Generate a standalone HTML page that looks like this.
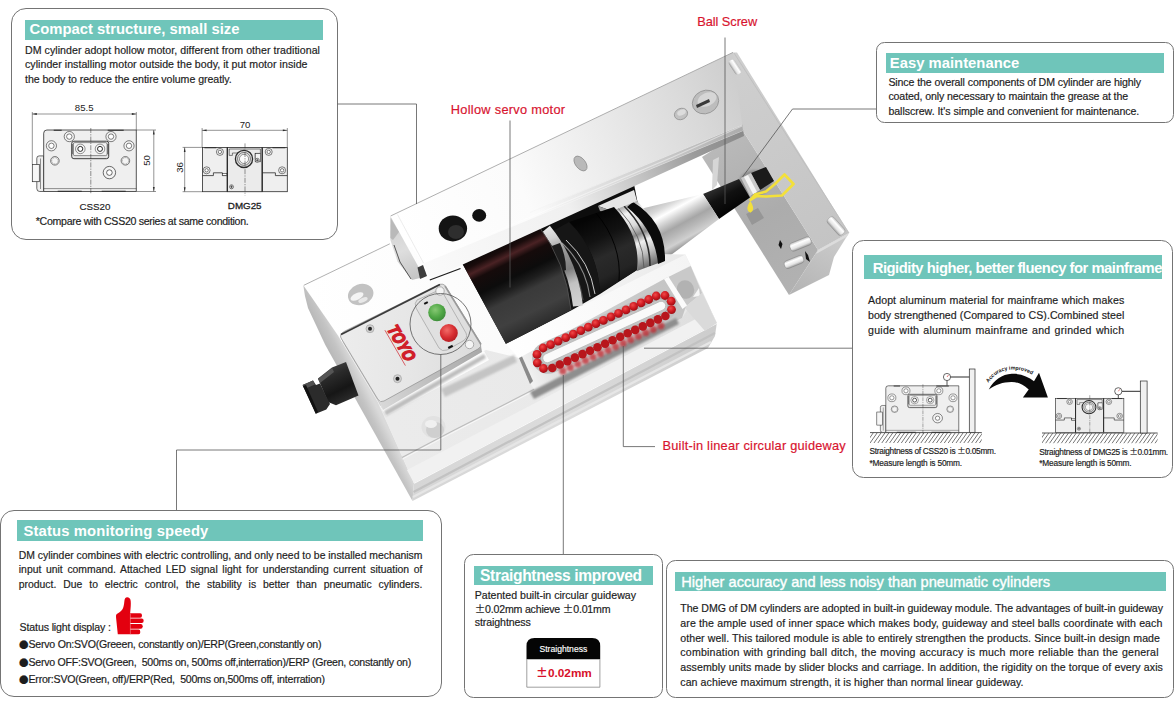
<!DOCTYPE html>
<html lang="en"><head><meta charset="utf-8"><title>DM cylinder features</title>
<style>
html,body{margin:0;padding:0;background:#fff;}
body{width:1174px;height:716px;position:relative;overflow:hidden;font-family:"Liberation Sans", "Noto Sans CJK SC", sans-serif;color:#1d1d1d;}
.box{position:absolute;border:1px solid #747474;background:#fff;box-sizing:border-box;}
.bar{position:absolute;background:#6fc5ba;}
.t{position:absolute;white-space:pre;line-height:20px;height:20px;}
.pm{font-family:"Noto Sans CJK SC",sans-serif;line-height:0;}
.bl{font-family:"Noto Sans CJK SC",sans-serif;line-height:0;font-size:9.5px;letter-spacing:0;}
svg{position:absolute;left:0;top:0;}
</style></head>
<body>

<div class="box" style="left:11px;top:7.8px;width:326.5px;height:232.6px;border-radius:15px"></div>
<div class="box" style="left:876.2px;top:41.8px;width:297.7px;height:81.6px;border-radius:8.5px"></div>
<div class="box" style="left:851.7px;top:240.2px;width:321.8px;height:237.6px;border-radius:11.5px"></div>
<div class="box" style="left:0px;top:509.6px;width:441.9px;height:187.8px;border-radius:14px"></div>
<div class="box" style="left:463.5px;top:553.6px;width:199.8px;height:144.2px;border-radius:9.5px"></div>
<div class="box" style="left:666.3px;top:560px;width:507.5px;height:137.8px;border-radius:9.5px"></div>
<div class="bar" style="left:25px;top:20px;width:298px;height:20px"></div>
<div class="bar" style="left:885.5px;top:53.3px;width:278.8px;height:20px"></div>
<div class="bar" style="left:863.6px;top:254.7px;width:298.8px;height:24.3px"></div>
<div class="bar" style="left:16.5px;top:520.4px;width:406.7px;height:20.3px"></div>
<div class="bar" style="left:474px;top:565.6px;width:178.6px;height:19.7px"></div>
<div class="bar" style="left:674.5px;top:571.5px;width:491.4px;height:19.7px"></div>

<svg width="1174" height="716" viewBox="0 0 1174 716">
<defs><linearGradient id="gBarTop" gradientUnits="userSpaceOnUse" x1="400" y1="240" x2="745" y2="90"><stop offset="0" stop-color="#ffffff"/><stop offset="0.35" stop-color="#fbfbfb"/><stop offset="0.6" stop-color="#ebebeb"/><stop offset="0.85" stop-color="#d9d9d9"/><stop offset="1" stop-color="#cdcdcd"/></linearGradient><linearGradient id="gBarFront" gradientUnits="userSpaceOnUse" x1="428" y1="275" x2="744" y2="133"><stop offset="0" stop-color="#fafafa"/><stop offset="0.45" stop-color="#f0f0f0"/><stop offset="0.62" stop-color="#d0d0d0"/><stop offset="0.85" stop-color="#9a9a9a"/><stop offset="1" stop-color="#8a8a8a"/></linearGradient><linearGradient id="gBarEnd" gradientUnits="userSpaceOnUse" x1="394" y1="218" x2="420" y2="280"><stop offset="0" stop-color="#cfcfcf"/><stop offset="0.5" stop-color="#dedede"/><stop offset="1" stop-color="#c2c2c2"/></linearGradient><linearGradient id="gEndTop" gradientUnits="userSpaceOnUse" x1="740" y1="60" x2="850" y2="235"><stop offset="0" stop-color="#cfcfcf"/><stop offset="1" stop-color="#c4c4c4"/></linearGradient><linearGradient id="gEndInner" gradientUnits="userSpaceOnUse" x1="720" y1="145" x2="800" y2="290"><stop offset="0" stop-color="#b9b9b9"/><stop offset="0.5" stop-color="#acacac"/><stop offset="1" stop-color="#b2b2b2"/></linearGradient><linearGradient id="gEndFace" gradientUnits="userSpaceOnUse" x1="830" y1="240" x2="800" y2="295"><stop offset="0" stop-color="#c9c9c9"/><stop offset="1" stop-color="#b4b4b4"/></linearGradient><linearGradient id="gBaseTop" gradientUnits="userSpaceOnUse" x1="310" y1="300" x2="700" y2="300"><stop offset="0" stop-color="#ffffff"/><stop offset="0.6" stop-color="#fafafa"/><stop offset="1" stop-color="#e6e6e6"/></linearGradient><linearGradient id="gBaseFront" gradientUnits="userSpaceOnUse" x1="414" y1="483" x2="717" y2="318"><stop offset="0" stop-color="#d6d6d6"/><stop offset="0.5" stop-color="#dcdcdc"/><stop offset="1" stop-color="#cccccc"/></linearGradient><linearGradient id="gBaseFront2" gradientUnits="userSpaceOnUse" x1="0" y1="0" x2="8" y2="17"><stop offset="0" stop-color="#f2f2f2"/><stop offset="0.45" stop-color="#e2e2e2"/><stop offset="0.55" stop-color="#d0d0d0"/><stop offset="1" stop-color="#e6e6e6"/></linearGradient><linearGradient id="gBaseLeft" gradientUnits="userSpaceOnUse" x1="318" y1="330" x2="334" y2="322"><stop offset="0" stop-color="#b8b8b8"/><stop offset="0.5" stop-color="#c4c4c4"/><stop offset="1" stop-color="#dadada"/></linearGradient><linearGradient id="gMotor" gradientUnits="userSpaceOnUse" x1="498" y1="243" x2="539" y2="327"><stop offset="0" stop-color="#050505"/><stop offset="0.1" stop-color="#1a0c0c"/><stop offset="0.17" stop-color="#4a2224"/><stop offset="0.24" stop-color="#160b0b"/><stop offset="0.4" stop-color="#0c0c0c"/><stop offset="0.5" stop-color="#1e1e1e"/><stop offset="0.6" stop-color="#3a3a3a"/><stop offset="0.82" stop-color="#404040"/><stop offset="1" stop-color="#2c2c2c"/></linearGradient><linearGradient id="gCyl2" gradientUnits="userSpaceOnUse" x1="590" y1="218" x2="622" y2="285"><stop offset="0" stop-color="#050505"/><stop offset="0.3" stop-color="#121212"/><stop offset="0.55" stop-color="#2a2a2a"/><stop offset="0.8" stop-color="#242424"/><stop offset="1" stop-color="#101010"/></linearGradient><linearGradient id="gCone" gradientUnits="userSpaceOnUse" x1="668" y1="198" x2="692" y2="242"><stop offset="0" stop-color="#c4c4c4"/><stop offset="0.12" stop-color="#d8d8d8"/><stop offset="0.26" stop-color="#ffffff"/><stop offset="0.4" stop-color="#d6d6d6"/><stop offset="0.58" stop-color="#a6a6a6"/><stop offset="0.72" stop-color="#b8b8b8"/><stop offset="0.88" stop-color="#d0d0d0"/><stop offset="1" stop-color="#9a9a9a"/></linearGradient><linearGradient id="gScrew" gradientUnits="userSpaceOnUse" x1="722" y1="186" x2="734" y2="208"><stop offset="0" stop-color="#2a2a2a"/><stop offset="0.4" stop-color="#111"/><stop offset="1" stop-color="#050505"/></linearGradient><linearGradient id="gBox" gradientUnits="userSpaceOnUse" x1="345" y1="335" x2="480" y2="345"><stop offset="0" stop-color="#ececec"/><stop offset="0.5" stop-color="#e6e6e6"/><stop offset="1" stop-color="#dcdcdc"/></linearGradient><linearGradient id="gBoxSide" gradientUnits="userSpaceOnUse" x1="380" y1="402" x2="481" y2="346"><stop offset="0" stop-color="#d8d8d8"/><stop offset="0.5" stop-color="#bdbdbd"/><stop offset="1" stop-color="#a8a8a8"/></linearGradient><linearGradient id="gConn" gradientUnits="userSpaceOnUse" x1="320" y1="365" x2="340" y2="405"><stop offset="0" stop-color="#4a4a4a"/><stop offset="0.35" stop-color="#2a2a2a"/><stop offset="0.7" stop-color="#161616"/><stop offset="1" stop-color="#2c2c2c"/></linearGradient><linearGradient id="gSlider" gradientUnits="userSpaceOnUse" x1="510" y1="350" x2="690" y2="262"><stop offset="0" stop-color="#ffffff"/><stop offset="1" stop-color="#f4f4f4"/></linearGradient><linearGradient id="gTrack" gradientUnits="userSpaceOnUse" x1="520" y1="360" x2="690" y2="275"><stop offset="0" stop-color="#f2f2f2"/><stop offset="0.12" stop-color="#e2e2e2"/><stop offset="0.5" stop-color="#cecece"/><stop offset="1" stop-color="#c2c2c2"/></linearGradient><linearGradient id="gPin" x1="0" y1="0" x2="0" y2="1"><stop offset="0" stop-color="#bdbdbd"/><stop offset="0.3" stop-color="#ffffff"/><stop offset="0.7" stop-color="#e4e4e4"/><stop offset="1" stop-color="#9a9a9a"/></linearGradient><radialGradient id="gGreen" cx="0.4" cy="0.35" r="0.7"><stop offset="0" stop-color="#86c873"/><stop offset="0.6" stop-color="#4fa645"/><stop offset="1" stop-color="#3b8a38"/></radialGradient><radialGradient id="gRed" cx="0.4" cy="0.35" r="0.7"><stop offset="0" stop-color="#f26a66"/><stop offset="0.6" stop-color="#d62c30"/><stop offset="1" stop-color="#b11c22"/></radialGradient><radialGradient id="gBall" cx="0.4" cy="0.35" r="0.75"><stop offset="0" stop-color="#f04a4a"/><stop offset="0.5" stop-color="#cf1a21"/><stop offset="1" stop-color="#8e0a10"/></radialGradient><filter id="blur1" x="-20%" y="-20%" width="140%" height="140%"><feGaussianBlur stdDeviation="1.2"/></filter><filter id="blur2" x="-20%" y="-20%" width="140%" height="140%"><feGaussianBlur stdDeviation="2.2"/></filter><filter id="blur05" x="-20%" y="-20%" width="140%" height="140%"><feGaussianBlur stdDeviation="0.6"/></filter><linearGradient id="gStrip" gradientUnits="userSpaceOnUse" x1="400" y1="440" x2="700" y2="300"><stop offset="0" stop-color="#ebebeb"/><stop offset="0.5" stop-color="#e9e9e9"/><stop offset="1" stop-color="#dedede"/></linearGradient><linearGradient id="gChrome" gradientUnits="userSpaceOnUse" x1="622" y1="205" x2="650" y2="266"><stop offset="0" stop-color="#9a9a9a"/><stop offset="0.15" stop-color="#f4f4f4"/><stop offset="0.35" stop-color="#dadada"/><stop offset="0.5" stop-color="#8a8a8a"/><stop offset="0.62" stop-color="#f0f0f0"/><stop offset="0.8" stop-color="#bcbcbc"/><stop offset="1" stop-color="#6a6a6a"/></linearGradient><linearGradient id="gRim" gradientUnits="userSpaceOnUse" x1="545" y1="228" x2="575" y2="308"><stop offset="0" stop-color="#e9e9e9"/><stop offset="0.14" stop-color="#d2d2d2"/><stop offset="0.3" stop-color="#9c9c9c"/><stop offset="0.55" stop-color="#7d7d7d"/><stop offset="0.72" stop-color="#c2c2c2"/><stop offset="1" stop-color="#d4d4d4"/></linearGradient><linearGradient id="gBarCh" gradientUnits="userSpaceOnUse" x1="540" y1="215" x2="743" y2="127"><stop offset="0" stop-color="#c8c8c8" stop-opacity="0"/><stop offset="0.5" stop-color="#c0c0c0" stop-opacity="0.55"/><stop offset="1" stop-color="#a8a8a8" stop-opacity="0.9"/></linearGradient></defs>
<g id="product">
<polygon points="702.0,157.0 743.0,131.0 818.0,250.0 789.0,295.0" fill="url(#gEndInner)"/>
<polygon points="728.0,55.0 733.0,52.4 737.0,52.5 849.0,233.0 818.0,250.0 743.0,131.0 738.0,131.0" fill="url(#gEndTop)"/>
<polygon points="818.0,250.0 849.0,233.0 834.0,257.0 829.0,275.0 789.0,295.0" fill="url(#gEndFace)"/>
<polygon points="818.0,250.0 849.0,233.0 846.5,237.0 816.0,254.0" fill="#dcdcdc"/>
<polygon points="713.0,160.0 719.0,157.0 717.0,185.0 712.0,190.0" fill="#d6d6d6" filter="url(#blur05)"/>
<ellipse cx="755" cy="183" rx="16" ry="13" fill="#8f8f8f" filter="url(#blur1)"/>
<polygon points="746.0,214.0 758.0,208.0 764.0,218.0 752.0,225.0" fill="#969696" filter="url(#blur05)"/>
<polygon points="751.0,173.0 766.0,167.0 774.0,181.0 760.0,190.0" fill="#1a1a1a"/>
<polygon points="741.0,178.0 751.0,173.0 760.0,190.0 750.0,196.0" fill="#c9c9c9"/>
<polygon points="744.0,177.0 748.0,175.0 757.0,192.0 753.0,194.0" fill="#f4f4f4"/>
<polygon points="703.0,194.0 739.0,179.0 750.0,197.5 719.0,219.0" fill="url(#gScrew)"/>
<polygon points="640.0,209.0 703.0,194.0 719.0,219.0 663.0,261.0" fill="url(#gCone)"/>
<polygon points="303.3,285.3 390.0,243.5 430.0,250.0 685.3,254.6 690.7,265.5 716.8,323.0 414.0,483.0" fill="url(#gBaseTop)"/>
<polyline points="303.8,285.3 389.8,243.8" stroke="#9c9c9c" stroke-width="0.8" fill="none"/>
<polygon points="303.3,285.3 338.0,335.6 379.0,404.0 414.0,483.0 412.5,501.0 325.3,345.0 308.0,308.0 305.0,296.0" fill="url(#gBaseLeft)"/>
<polygon points="414.0,483.0 716.8,323.0 715.0,336.0 708.0,348.0 412.5,501.0" fill="url(#gBaseFront)"/>
<polyline points="413.5,492.0 715.0,333.0" stroke="#c2c2c2" stroke-width="2.2" fill="none"/>
<polyline points="413.0,497.0 711.0,342.0" stroke="#e6e6e6" stroke-width="2.5" fill="none"/>
<polyline points="414.0,483.0 716.8,323.0" stroke="#fbfbfb" stroke-width="1.5" fill="none"/>
<polygon points="378.0,403.0 486.0,350.0 519.0,358.0 536.0,392.0 682.0,318.0 701.0,290.0 716.8,323.0 414.0,483.0" fill="url(#gStrip)"/>
<polygon points="380.0,406.0 484.0,351.0 489.0,360.0 386.0,416.0" fill="#fdfdfd"/>
<polygon points="441.0,389.0 514.0,355.0 517.0,362.0 445.0,397.0" fill="#c4c4c4" filter="url(#blur1)"/>
<polyline points="402.0,457.5 451.5,431.6 536.4,388.0 600.0,356.0" stroke="#bcbcbc" stroke-width="1.1" fill="none"/>
<polyline points="402.5,459.0 452.0,433.0 537.0,389.4 601.0,357.5" stroke="#f8f8f8" stroke-width="1" fill="none"/>
<polygon points="407.0,470.0 711.0,311.0 716.8,323.0 414.0,483.0" fill="#f1f1f1"/>
<ellipse cx="433.5" cy="427" rx="12" ry="11" fill="#e2e2e2"/>
<ellipse cx="435" cy="430" rx="9" ry="8" fill="#cfcfcf"/>
<ellipse cx="431" cy="424" rx="6" ry="4" fill="#f0f0f0"/>
<ellipse cx="360.7" cy="294.5" rx="13" ry="10.5" fill="#c2c2c2" transform="rotate(-20 360.7 294.5)"/>
<ellipse cx="357" cy="296.5" rx="7" ry="3.2" fill="#f4f4f4" transform="rotate(-25 357 296.5)"/>
<ellipse cx="363" cy="300" rx="5" ry="2.2" fill="#e8e8e8" transform="rotate(-25 363 300)"/>
<polygon points="667.0,277.6 690.7,266.0 702.0,293.0 684.5,307.6" fill="#c9c9c9"/>
<ellipse cx="685.5" cy="289.5" rx="8.5" ry="9.5" fill="#b2b2b2" transform="rotate(-25 685.5 289.5)"/>
<polygon points="693.0,297.0 699.0,288.0 700.0,296.0" fill="#f6f6f6"/>
<polygon points="684.5,307.6 702.0,293.0 716.8,323.0 705.0,331.0" fill="#dadada"/>
<polygon points="461.0,261.0 540.0,222.0 634.0,184.0 640.0,215.0 637.0,270.0 600.0,294.0 572.0,310.0 506.0,344.0" fill="#0d0d0d"/>
<path d="M612,209 L636,200 Q662,226 664,261 L637,271 Q640,236 612,209 Z" fill="url(#gChrome)"/>
<path d="M624,206 Q650,232 650,266" stroke="#2a2a2a" stroke-width="1.6" fill="none"/>
<path d="M618,208 Q644,236 644,268" stroke="#555" stroke-width="0.8" fill="none"/>
<path d="M633,202 Q666,222 665,261 L658,264 Q655,230 627,207 Z" fill="#0a0a0a"/>
<polygon points="598.0,206.0 634.0,190.0 637.0,201.0 612.0,211.0" fill="#e6e6e6"/>
<polygon points="598.0,206.0 612.0,211.0 613.0,216.0 600.0,211.0" fill="#9d9d9d"/>
<path d="M569,222 L614,207 Q641,236 637,270 L600,293 Q598,250 569,222 Z" fill="url(#gCyl2)"/>
<path d="M596,213 Q622,244 619,281" stroke="#000" stroke-width="0.9" fill="none"/>
<path d="M540,238 L569,222 Q598,250 600,293 L572,309 Q565,265 540,238 Z" fill="#161616"/>
<path d="M562,243 Q586,266 590,297" stroke="#8a8a8a" stroke-width="1.1" fill="none"/>
<path d="M566,240 Q590,262 595,294" stroke="#e2e2e2" stroke-width="0.9" fill="none"/>
<path d="M557,247 Q578,268 583,300" stroke="#4a4a4a" stroke-width="1.3" fill="none"/>
<path d="M546,229 Q573,262 578,306" stroke="url(#gRim)" stroke-width="10" fill="none"/>
<path d="M549,247 L560,243 Q566,256 566,270 L555,274 Q555,260 549,247 Z" fill="#1e1e1e"/>
<path d="M461,261 L538,225 Q566,262 571,310 L506,344 Z" fill="url(#gMotor)"/>
<path d="M538,225 Q566,262 571,310" stroke="#555" stroke-width="0.8" fill="none"/>
<polygon points="506.0,344.0 685.3,254.6 690.7,265.5 668.0,277.0 519.0,358.0" fill="url(#gSlider)"/>
<polygon points="519.0,358.0 668.0,277.0 686.0,306.0 682.0,318.0 536.0,392.0 528.0,380.0" fill="url(#gTrack)"/>
<polygon points="664.0,279.0 668.5,276.8 687.0,305.5 682.5,309.0" fill="#fbfbfb"/>
<polygon points="530.0,392.0 676.0,318.0 679.0,324.0 534.0,399.0" fill="#8e8e8e" filter="url(#blur1)"/>
<polygon points="519.0,358.0 522.0,356.5 533.0,381.0 530.0,384.0" fill="#8a8a8a"/>
<path d="M540.6,343.7 L654.5,291.3 A16.0,16.0 0 0 1 667.9,320.3 L554.0,372.7 A16.0,16.0 0 0 1 540.6,343.7 Z" fill="#bfbfbf"/>
<path d="M544.2,351.4 L658.1,299.0 A7.5,7.5 0 0 1 664.3,312.6 L550.4,365.0 A7.5,7.5 0 0 1 544.2,351.4 Z" fill="#c4c4c4" stroke="#a0a0a0" stroke-width="1"/>
<path d="M545.4,354.1 L659.3,301.7 A4.5,4.5 0 0 1 663.1,309.9 L549.2,362.3 A4.5,4.5 0 0 1 545.4,354.1 Z" fill="#fafafa" stroke="#b5b5b5" stroke-width="0.8"/>
<g fill="#c2272d" opacity="0.75" filter="url(#blur1)"><circle cx="562.8" cy="370.9" r="3.6"/><circle cx="570.3" cy="367.4" r="3.6"/><circle cx="577.8" cy="364.0" r="3.6"/><circle cx="585.4" cy="360.5" r="3.6"/><circle cx="592.9" cy="357.0" r="3.6"/><circle cx="600.5" cy="353.6" r="3.6"/><circle cx="608.0" cy="350.1" r="3.6"/><circle cx="615.5" cy="346.6" r="3.6"/><circle cx="623.1" cy="343.1" r="3.6"/><circle cx="630.6" cy="339.7" r="3.6"/><circle cx="638.2" cy="336.2" r="3.6"/><circle cx="645.7" cy="332.7" r="3.6"/><circle cx="653.2" cy="329.3" r="3.6"/><circle cx="660.8" cy="325.8" r="3.6"/></g>
<g fill="#b8151c" filter="url(#blur05)"><circle cx="552.3" cy="368.0" r="4.3"/><circle cx="559.8" cy="364.5" r="4.3"/><circle cx="567.4" cy="361.1" r="4.3"/><circle cx="574.9" cy="357.6" r="4.3"/><circle cx="582.5" cy="354.1" r="4.3"/><circle cx="590.0" cy="350.7" r="4.3"/><circle cx="597.5" cy="347.2" r="4.3"/><circle cx="605.1" cy="343.7" r="4.3"/><circle cx="612.6" cy="340.3" r="4.3"/><circle cx="620.2" cy="336.8" r="4.3"/><circle cx="627.7" cy="333.3" r="4.3"/><circle cx="635.2" cy="329.9" r="4.3"/><circle cx="642.8" cy="326.4" r="4.3"/><circle cx="650.3" cy="322.9" r="4.3"/><circle cx="657.9" cy="319.4" r="4.3"/><circle cx="665.4" cy="316.0" r="4.3"/></g>
<g fill="url(#gBall)"><circle cx="543.5" cy="368.5" r="4.4"/><circle cx="537.3" cy="362.8" r="4.4"/><circle cx="537.0" cy="354.4" r="4.4"/><circle cx="665.0" cy="295.5" r="4.4"/><circle cx="671.2" cy="301.2" r="4.4"/><circle cx="671.5" cy="309.6" r="4.4"/><circle cx="543.1" cy="348.0" r="4.4"/><circle cx="550.6" cy="344.6" r="4.4"/><circle cx="558.2" cy="341.1" r="4.4"/><circle cx="565.7" cy="337.6" r="4.4"/><circle cx="573.3" cy="334.1" r="4.4"/><circle cx="580.8" cy="330.7" r="4.4"/><circle cx="588.3" cy="327.2" r="4.4"/><circle cx="595.9" cy="323.7" r="4.4"/><circle cx="603.4" cy="320.3" r="4.4"/><circle cx="611.0" cy="316.8" r="4.4"/><circle cx="618.5" cy="313.3" r="4.4"/><circle cx="626.0" cy="309.9" r="4.4"/><circle cx="633.6" cy="306.4" r="4.4"/><circle cx="641.1" cy="302.9" r="4.4"/><circle cx="648.7" cy="299.5" r="4.4"/><circle cx="656.2" cy="296.0" r="4.4"/></g>
<polygon points="390.6,216.5 418.0,266.0 424.0,277.0 412.0,280.0 397.5,261.4 390.4,240.0" fill="url(#gBarEnd)"/>
<polygon points="390.6,218.0 399.0,232.0 393.0,240.0 390.4,238.0" fill="#b9b9b9" filter="url(#blur05)"/>
<polygon points="417.5,267.5 423.0,265.0 427.0,276.0 420.0,279.0" fill="#3c3c3c" filter="url(#blur05)"/>
<polyline points="394.0,245.0 400.0,262.0 411.0,279.0" stroke="#333" stroke-width="0.8" fill="none"/>
<polygon points="423.3,262.6 743.0,129.5 744.0,136.0 431.0,279.0" fill="url(#gBarFront)"/>
<polygon points="390.6,216.0 733.0,52.4 743.0,131.0 423.3,263.5" fill="url(#gBarTop)"/>
<polyline points="397.5,214.5 423.5,263.0" stroke="#e4e4e4" stroke-width="0.7" fill="none"/>
<polygon points="540.0,208.0 742.3,124.5 743.0,130.5 540.0,214.5" fill="url(#gBarCh)"/>
<polyline points="530.0,212.5 742.0,125.0" stroke="#f4f4f4" stroke-width="0.9" fill="none" opacity="0.7"/>
<polyline points="429.8,280.0 460.5,268.5" stroke="#1c1c1c" stroke-width="1.3" fill="none"/>
<polyline points="390.6,216.0 733.0,52.4" stroke="#9a9a9a" stroke-width="0.8" fill="none"/>
<polyline points="734.0,53.0 849.0,233.0" stroke="#bdbdbd" stroke-width="0.8" fill="none"/>
<polyline points="485.0,236.0 673.0,157.0 742.0,126.0" stroke="#ffffff" stroke-width="1.2" fill="none" opacity="0.45"/>
<ellipse cx="452.9" cy="228.4" rx="14.2" ry="13" fill="#141414"/>
<ellipse cx="456" cy="232" rx="8" ry="7" fill="#2e2e2e"/>
<ellipse cx="479.2" cy="215.4" rx="7" ry="6.3" fill="#111"/>
<ellipse cx="580.5" cy="163.5" rx="5" ry="8.5" fill="#b9b9b9" stroke="#8f8f8f" stroke-width="0.8" transform="rotate(-38 580.5 163.5)"/>
<ellipse cx="705.5" cy="102" rx="13.5" ry="11.5" fill="#bdbdbd" stroke="#949494" stroke-width="0.8" transform="rotate(-25 705.5 102)"/><ellipse cx="707" cy="99.5" rx="10" ry="6.5" fill="#d6d6d6" transform="rotate(-25 707 99.5)"/>
<polygon points="696.0,105.0 709.0,99.0 710.0,102.0 697.0,108.0" fill="#3a3a3a"/>
<ellipse cx="681" cy="114" rx="6.8" ry="5.5" fill="#c2c2c2" stroke="#949494" stroke-width="0.8" transform="rotate(-25 681 114)"/><ellipse cx="681.5" cy="112.5" rx="4.5" ry="2.8" fill="#dcdcdc" transform="rotate(-25 681.5 112.5)"/>
<rect x="-8" y="-3.5" width="16" height="7" rx="3" fill="url(#gPin)" transform="translate(735,67) rotate(57)"/>
<rect x="-10.5" y="-4.2" width="21" height="8.4" rx="3" fill="url(#gPin)" stroke="#8a8a8a" stroke-width="0.4" transform="translate(836,226) rotate(48)"/>
<rect x="-11" y="-4.3" width="22" height="8.6" rx="3" fill="url(#gPin)" stroke="#777" stroke-width="0.4" transform="translate(800.5,244) rotate(-22)"/>
<rect x="-10" y="-4" width="20" height="8" rx="3" fill="url(#gPin)" stroke="#777" stroke-width="0.4" transform="translate(794,262) rotate(-22)"/>
<polygon points="780.0,240.0 782.5,244.0 781.0,249.0 778.5,245.0" fill="#111"/>
<polygon points="805.0,251.0 808.0,255.0 810.0,262.0 806.0,259.0" fill="#111"/>
<path d="M750.5,200 L755,194.5 L766,191.5 L775,184 L784.5,174.5 L793.5,184 L782,195.5 L766,196.5 L757,196 Z" fill="none" stroke="#f3e03a" stroke-width="2.6" stroke-linejoin="round"/>
<path d="M750.3,202 Q745.5,209.5 750.3,212 Q755,209.5 750.3,202 Z" fill="#f3e03a" stroke="#f3e03a" stroke-width="1.2"/>
<polygon points="318.0,378.5 332.0,367.5 346.0,362.0 358.5,395.5 336.0,405.2 328.0,402.0" fill="url(#gConn)"/>
<polygon points="302.6,385.0 313.0,380.5 316.0,385.0 320.0,383.5 330.0,404.0 326.3,409.4 315.8,413.8" fill="#2b2b2b"/>
<polygon points="302.6,385.0 313.0,380.5 315.0,384.5 304.5,389.0" fill="#505050"/>
<polygon points="318.0,379.0 332.0,368.0 334.0,372.0 320.0,383.0" fill="#555"/>
<polygon points="303.0,386.0 306.0,385.0 318.0,412.0 315.8,413.8" fill="#111"/>
<polygon points="340.0,335.0 380.0,402.5 383.0,410.0 343.0,343.0" fill="#cfcfcf"/>
<polygon points="380.0,402.5 481.0,346.0 482.0,352.0 383.0,410.0" fill="url(#gBoxSide)"/>
<polygon points="384.0,411.0 484.0,354.0 486.0,358.0 386.0,416.0" fill="#bdbdbd" filter="url(#blur1)"/>
<path d="M345,331 L438,285 Q443.75,282.5 446,287 L480.5,343 Q482,347 478,349 L384,401 Q380,403 378,399.5 L341,338 Q339,334 345,331 Z" fill="url(#gBox)" stroke="#8d8d8d" stroke-width="0.7"/>
<polyline points="341.0,334.5 440.0,284.5" stroke="#3a3a3a" stroke-width="1.8" fill="none"/>
<polyline points="445.0,286.0 481.0,344.5" stroke="#9a9a9a" stroke-width="1.6" fill="none"/>
<path d="M417,300 L437,291 Q441,290 443,293 L466,333 Q468,338 463,341 L447,350 Q442,352 439,348 L416,308 Q414,303 417,300 Z" fill="#e0e0e0" stroke="#a8a8a8" stroke-width="0.8"/>
<circle cx="437" cy="312.5" r="8.8" fill="url(#gGreen)"/>
<circle cx="448.8" cy="333" r="9" fill="url(#gRed)"/>
<rect x="424" y="302" width="4" height="2" fill="#111" transform="rotate(-27 426 303)"/>
<rect x="448" y="346" width="5" height="2.2" fill="#111" transform="rotate(-27 450 347)"/>
<circle cx="440" cy="291" r="4.2" fill="#f4f4f4" stroke="#9c9c9c" stroke-width="0.8"/>
<circle cx="469.5" cy="344.5" r="4.2" fill="#f4f4f4" stroke="#9c9c9c" stroke-width="0.8"/>
<circle cx="370" cy="328.7" r="4" fill="#d2d2d2" stroke="#a8a8a8" stroke-width="0.8"/><circle cx="370" cy="328.7" r="2" fill="#222"/>
<circle cx="397.5" cy="378.7" r="4" fill="#d2d2d2" stroke="#a8a8a8" stroke-width="0.8"/><circle cx="397.5" cy="378.7" r="2" fill="#222"/>
<text x="0" y="0" transform="translate(386.6,328.6) rotate(60) skewX(-10)" font-family="Liberation Sans, sans-serif" font-weight="700" font-size="16.6" fill="#d01f2a" stroke="#d01f2a" stroke-width="1.5" stroke-linejoin="miter" textLength="38.5" lengthAdjust="spacingAndGlyphs">TOYO</text>
<path d="M384.9,330.2 L405.4,365.6" stroke="#d01f2a" stroke-width="0.7" fill="none"/>
</g>

<defs><g id="css20"><path d="M0,25.9 L-4.5,25.9 Q-6.9,25.9 -6.9,28.3 L-6.9,58.5 Q-6.9,61.5 -4,61.5 L0,61.5 Z" fill="#efefef" stroke="#2b2b2b" stroke-width="0.7"/><path d="M-3.2,28.5 L-3.2,59" fill="none" stroke="#2b2b2b" stroke-width="0.5"/><rect x="-11.4" y="34.5" width="7" height="17.2" fill="#f6f6f6" stroke="#2b2b2b" stroke-width="0.7"/><path d="M3.2,0 L92.6,0 L92.6,61.5 L0,61.5 L0,3.2 Q0,0 3.2,0 Z" fill="#efefef" stroke="#2b2b2b" stroke-width="0.8"/><path d="M0,58.6 L92.6,58.6" stroke="#2b2b2b" stroke-width="0.5" fill="none"/><path d="M14,61.2 L38,61.2 M58,61.2 L82,61.2 M10,0.3 L18,0.3 M64,0.3 L80,0.3" stroke="#2b2b2b" stroke-width="1.1" fill="none"/><circle cx="25.6" cy="6.6" r="5.1" fill="#f4f4f4" stroke="#2b2b2b" stroke-width="0.6"/><circle cx="25.6" cy="6.6" r="2.7" fill="#fff" stroke="#2b2b2b" stroke-width="0.6"/><circle cx="67.3" cy="6.6" r="5.1" fill="#f4f4f4" stroke="#2b2b2b" stroke-width="0.6"/><circle cx="67.3" cy="6.6" r="2.7" fill="#fff" stroke="#2b2b2b" stroke-width="0.6"/><circle cx="7.7" cy="15.8" r="5.1" fill="#f4f4f4" stroke="#2b2b2b" stroke-width="0.6"/><circle cx="7.7" cy="15.8" r="2.7" fill="#fff" stroke="#2b2b2b" stroke-width="0.6"/><circle cx="85.3" cy="15.8" r="5.1" fill="#f4f4f4" stroke="#2b2b2b" stroke-width="0.6"/><circle cx="85.3" cy="15.8" r="2.7" fill="#fff" stroke="#2b2b2b" stroke-width="0.6"/><circle cx="11.2" cy="30.8" r="4.3" fill="#f4f4f4" stroke="#2b2b2b" stroke-width="0.6"/><circle cx="11.2" cy="30.8" r="3.2" fill="none" stroke="#2b2b2b" stroke-width="0.4" stroke-dasharray="1 0.6"/><circle cx="81.7" cy="30.8" r="4.3" fill="#f4f4f4" stroke="#2b2b2b" stroke-width="0.6"/><circle cx="81.7" cy="30.8" r="3.2" fill="none" stroke="#2b2b2b" stroke-width="0.4" stroke-dasharray="1 0.6"/><circle cx="65.7" cy="42.6" r="6.2" fill="#f4f4f4" stroke="#2b2b2b" stroke-width="0.7"/><circle cx="65.7" cy="42.6" r="2.8" fill="#fff" stroke="#2b2b2b" stroke-width="0.7"/><rect x="28" y="11.2" width="37" height="17.5" rx="2.2" fill="#e4e4e4" stroke="#2b2b2b" stroke-width="0.9"/><rect x="29.6" y="12.6" width="33.8" height="13" rx="1.5" fill="#f2f2f2" stroke="#2b2b2b" stroke-width="0.5"/><path d="M29,14 L29,24 M64,14 L64,24" stroke="#2b2b2b" stroke-width="1.2" stroke-dasharray="0.6 0.6" fill="none"/><circle cx="36.6" cy="18.9" r="4.8" fill="#f6f6f6" stroke="#2b2b2b" stroke-width="0.5"/><circle cx="36.6" cy="18.9" r="2.5" fill="#fff" stroke="#2b2b2b" stroke-width="1.0"/><circle cx="56.3" cy="18.9" r="4.8" fill="#f6f6f6" stroke="#2b2b2b" stroke-width="0.5"/><circle cx="56.3" cy="18.9" r="2.5" fill="#fff" stroke="#2b2b2b" stroke-width="1.0"/><path d="M47.1,-2 L47.1,63.5" stroke="#2b2b2b" stroke-width="0.5" stroke-dasharray="5 1.2 1.2 1.2" fill="none"/></g>
<g id="dmg25"><rect x="0" y="0" width="84.9" height="44.3" fill="#efefef" stroke="#2b2b2b" stroke-width="0.8"/><rect x="24.9" y="0" width="34.9" height="44.3" fill="#ebebeb" stroke="#2b2b2b" stroke-width="0.7"/><path d="M24.9,0 L24.9,44.3 M59.8,0 L59.8,44.3" stroke="#2b2b2b" stroke-width="1.3" fill="none"/><path d="M26.8,1.6 L58,1.6 M26.8,1.6 L26.8,8 L30,8 L30,5.6 L36,5.6 M58,1.6 L58,6 L52.8,6 L52.8,12 " stroke="#2b2b2b" stroke-width="0.6" fill="none"/><rect x="52.8" y="6" width="5.2" height="8.4" fill="#f4f4f4" stroke="#2b2b2b" stroke-width="0.6"/><path d="M0,28.2 L11,28.2 L11,25.4 L20,25.4 L20,28.2 L24.9,28.2" stroke="#2b2b2b" stroke-width="0.8" fill="none"/><path d="M59.8,25.4 L73,25.4 L73,28.2 L84.9,28.2" stroke="#2b2b2b" stroke-width="0.8" fill="none"/><rect x="20" y="26" width="4.4" height="2.2" fill="#fff" stroke="#2b2b2b" stroke-width="0.6"/><path d="M2,0.3 L14,0.3 M70,0.3 L83,0.3" stroke="#2b2b2b" stroke-width="1.1" fill="none"/><circle cx="17.5" cy="4.5" r="3.5" fill="#f4f4f4" stroke="#2b2b2b" stroke-width="0.6"/><circle cx="17.5" cy="4.5" r="1.7" fill="#fff" stroke="#2b2b2b" stroke-width="0.6"/><circle cx="66.3" cy="4.5" r="3.5" fill="#f4f4f4" stroke="#2b2b2b" stroke-width="0.6"/><circle cx="66.3" cy="4.5" r="1.7" fill="#fff" stroke="#2b2b2b" stroke-width="0.6"/><circle cx="4.2" cy="22.9" r="3.5" fill="#f4f4f4" stroke="#2b2b2b" stroke-width="0.6"/><circle cx="4.2" cy="22.9" r="1.7" fill="#fff" stroke="#2b2b2b" stroke-width="0.6"/><circle cx="79.7" cy="22.9" r="3.5" fill="#f4f4f4" stroke="#2b2b2b" stroke-width="0.6"/><circle cx="79.7" cy="22.9" r="1.7" fill="#fff" stroke="#2b2b2b" stroke-width="0.6"/><circle cx="41.6" cy="11.5" r="8.6" fill="#dcdcdc" stroke="#2b2b2b" stroke-width="1.3"/><circle cx="41.6" cy="11.5" r="6.4" fill="#f2f2f2" stroke="#2b2b2b" stroke-width="0.6"/><circle cx="41.6" cy="11.5" r="4.6" fill="#fafafa" stroke="#2b2b2b" stroke-width="0.5"/><circle cx="54.9" cy="12.9" r="2" fill="#fff" stroke="#2b2b2b" stroke-width="0.6"/><path d="M53.5,12.9 L56.3,12.9 M54.9,11.5 L54.9,14.3" stroke="#2b2b2b" stroke-width="0.7"/><circle cx="29.1" cy="39.4" r="2" fill="#fff" stroke="#2b2b2b" stroke-width="0.6"/><path d="M27.700000000000003,39.4 L30.5,39.4 M29.1,38.0 L29.1,40.8" stroke="#2b2b2b" stroke-width="0.7"/><path d="M42.6,-4 L42.6,48" stroke="#2b2b2b" stroke-width="0.5" stroke-dasharray="5 1.2 1.2 1.2" fill="none"/></g>
<pattern id="hatch" patternUnits="userSpaceOnUse" width="3.2" height="3.2" patternTransform="rotate(35)"><rect width="3.2" height="3.2" fill="#fff"/><path d="M0,0 L0,3.2" stroke="#333" stroke-width="1.1"/></pattern>
</defs>
<use href="#css20" transform="translate(43.7,130)"/>
<use href="#dmg25" transform="translate(202.4,147.4)"/>
<path d="M32.3,112 L32.3,164 M136.3,112 L136.3,130 M32.3,114 L136.3,114" stroke="#2b2b2b" stroke-width="0.5" fill="none"/><path d="M32.3,114 L36.8,113.1 L36.8,114.9 Z" fill="#2b2b2b"/><path d="M136.3,114 L131.8,113.1 L131.8,114.9 Z" fill="#2b2b2b"/>
<text x="84.2" y="110.6" font-family="Liberation Sans, sans-serif" font-size="9.6" text-anchor="middle" fill="#222">85.5</text>
<path d="M136.3,130 L156,130 M136.3,191.5 L156,191.5 M153.8,130 L153.8,191.5" stroke="#2b2b2b" stroke-width="0.5" fill="none"/><path d="M153.8,130 L152.9,134.5 L154.70000000000002,134.5 Z" fill="#2b2b2b"/><path d="M153.8,191.5 L152.9,187.0 L154.70000000000002,187.0 Z" fill="#2b2b2b"/>
<text transform="translate(150.4,160.5) rotate(-90)" font-family="Liberation Sans, sans-serif" font-size="9.6" text-anchor="middle" fill="#222">50</text>
<path d="M202.1,128 L202.1,147 M287.3,128 L287.3,147 M202.1,130.3 L287.3,130.3" stroke="#2b2b2b" stroke-width="0.5" fill="none"/><path d="M202.1,130.3 L206.6,129.4 L206.6,131.20000000000002 Z" fill="#2b2b2b"/><path d="M287.3,130.3 L282.8,129.4 L282.8,131.20000000000002 Z" fill="#2b2b2b"/>
<text x="245" y="127.9" font-family="Liberation Sans, sans-serif" font-size="9.6" text-anchor="middle" fill="#222">70</text>
<path d="M182.6,147.4 L202,147.4 M182.6,191.7 L202,191.7 M184.7,147.4 L184.7,191.7" stroke="#2b2b2b" stroke-width="0.5" fill="none"/><path d="M184.7,147.4 L183.79999999999998,151.9 L185.6,151.9 Z" fill="#2b2b2b"/><path d="M184.7,191.7 L183.79999999999998,187.2 L185.6,187.2 Z" fill="#2b2b2b"/>
<text transform="translate(183,167.5) rotate(-90)" font-family="Liberation Sans, sans-serif" font-size="9.6" text-anchor="middle" fill="#222">36</text>
<text x="95" y="210" font-family="Liberation Sans, sans-serif" font-size="9.8" text-anchor="middle" fill="#222" stroke="#222" stroke-width="0.15">CSS20</text>
<text x="244.7" y="208.6" font-family="Liberation Sans, sans-serif" font-size="9.8" text-anchor="middle" fill="#222" stroke="#222" stroke-width="0.3">DMG25</text>
<rect x="870" y="432.8" width="111.8" height="10.2" fill="url(#hatch)"/>
<path d="M870,432.6 L981.8,432.6" stroke="#2b2b2b" stroke-width="0.8"/>
<rect x="1042" y="433.2" width="115.6" height="10" fill="url(#hatch)"/>
<path d="M1042,433 L1157.6,433" stroke="#2b2b2b" stroke-width="0.8"/>
<use href="#css20" transform="translate(885.8,385.8) scale(0.788,0.76)"/>
<use href="#dmg25" transform="translate(1055.5,398.3) scale(0.805,0.772)"/>
<rect x="969.3" y="369" width="5.7" height="63.5" fill="#f0f0f0" stroke="#2b2b2b" stroke-width="0.7"/>
<rect x="1140.3" y="381" width="6.8" height="52" fill="#f0f0f0" stroke="#2b2b2b" stroke-width="0.7"/>
<path d="M947,377 L969.3,377" stroke="#2b2b2b" stroke-width="1"/><circle cx="947" cy="377" r="3.6" fill="#fff" stroke="#2b2b2b" stroke-width="0.7"/><path d="M947,380.6 L947,385.5" stroke="#2b2b2b" stroke-width="0.8"/><path d="M947,377 L948.5,375" stroke="#c22" stroke-width="0.6"/>
<path d="M1118.3,391.3 L1140.3,391.3" stroke="#2b2b2b" stroke-width="1"/><circle cx="1118.3" cy="391.3" r="3.6" fill="#fff" stroke="#2b2b2b" stroke-width="0.7"/><path d="M1118.3,394.9 L1118.3,398.3" stroke="#2b2b2b" stroke-width="0.8"/><path d="M1118.3,391.3 L1119.8,389.3" stroke="#c22" stroke-width="0.6"/>
<path d="M988.8,389.5 C994,380 1002,374.2 1011.8,373.8 C1021,373.5 1028,376.5 1034,381.2 L1039,372.7 L1047.9,397.6 L1022.9,397.6 L1028.7,389.5 C1023,384.5 1018,382 1011.8,381.9 C1003,381.8 996,384.5 988.8,389.5 Z" fill="#0a0a0a"/>
<path id="arcT" d="M988.2,382.8 C995,373.5 1003,369.8 1011.5,369.6 C1020,369.4 1027,371.5 1034.5,376" fill="none"/>
<text font-family="Liberation Sans, sans-serif" font-size="5.3" font-weight="700" fill="#111"><textPath href="#arcT" startOffset="0">Accuracy improved</textPath></text>
<path d="M127.2,597.3 C125.4,597.3 124.6,599 124.4,601 C124,605 123.5,607.5 122.3,609.5 C120.8,612 118.2,613 116.8,614 C115.8,614.7 116,616 116.1,618 L117.8,634.3 L130.2,634.3 L130.2,612.5 C130.7,608 131,604 130.7,601 C130.5,598.6 129,597.3 127.2,597.3 Z" fill="#e3000f"/>
<path d="M130,613.2 L140.2,613.2 Q142,613.2 142,615.5 Q142,617.8 140.2,617.8 L130,617.8 Z" fill="#e3000f"/>
<path d="M130,618.5 L141.6,618.5 Q143.7,618.5 143.7,620.8 Q143.7,623.1 141.6,623.1 L130,623.1 Z" fill="#e3000f"/>
<path d="M130,623.9 L140.7,623.9 Q142.7,623.9 142.7,626.3 Q142.7,628.8 140.7,628.8 L130,628.8 Z" fill="#e3000f"/>
<path d="M130,629.6 L138.6,629.6 Q140.3,629.6 140.3,632 Q140.3,634.3 138.6,634.3 L130,634.3 Z" fill="#e3000f"/><path d="M130.4,613.5 L130.4,634" stroke="#f7a0a5" stroke-width="0.5"/>
<path d="M526.5,659.6 L526.5,646 Q526.5,638 534.5,638 L592.2,638 Q600.2,638 600.2,646 L600.2,659.6 Z" fill="#050505"/>
<path d="M526.8,659.6 L526.8,687.2 L599.9,687.2 L599.9,659.6" fill="#fff" stroke="#777" stroke-width="0.7"/>
<text x="563.4" y="651.6" font-family="Liberation Sans, sans-serif" font-size="8.6" text-anchor="middle" fill="#fff" stroke="#fff" stroke-width="0.15">Straightness</text>
<text x="564" y="676.6" font-family="Liberation Sans, Noto Sans CJK SC, sans-serif" font-size="11.8" font-weight="700" text-anchor="middle" fill="#d7102a"><tspan font-family="Noto Sans CJK SC, sans-serif">±</tspan>0.02mm</text>
<path d="M337.5,104 L416.5,104 L416.5,204" stroke="#555" stroke-width="0.8" fill="none"/>
<path d="M510,120.5 L510,287.5" stroke="#555" stroke-width="0.8" fill="none"/>
<path d="M725,37.5 L725,204" stroke="#555" stroke-width="0.8" fill="none"/>
<path d="M876,109 L792.5,109 L742.5,177" stroke="#555" stroke-width="0.8" fill="none"/>
<path d="M852,348.2 L644,348.2" stroke="#555" stroke-width="0.8" fill="none"/>
<path d="M655,446.6 L623.3,446.6 L623.3,346" stroke="#555" stroke-width="0.8" fill="none"/>
<path d="M563.3,554 L563.3,375" stroke="#555" stroke-width="0.8" fill="none"/>
<path d="M176.5,510 L176.5,450 L440.8,450 L440.8,354" stroke="#555" stroke-width="0.8" fill="none"/>
<circle cx="440.5" cy="324" r="30.5" stroke="#555" stroke-width="0.8" fill="none"/>
</svg>
<div class="t" style="left:29.5px;top:19.00px;font-size:14.8px;font-weight:700;color:#fff;letter-spacing:0.010px;">Compact structure, small size</div>
<div class="t" style="left:25.0px;top:40.00px;font-size:10.6px;letter-spacing:0.049px;-webkit-text-stroke:0.18px;">DM cylinder adopt hollow motor, different from other traditional</div>
<div class="t" style="left:25.0px;top:54.30px;font-size:10.6px;letter-spacing:0.038px;-webkit-text-stroke:0.18px;">cylinder installing motor outside the body, it put motor inside</div>
<div class="t" style="left:25.0px;top:68.60px;font-size:10.6px;letter-spacing:-0.048px;-webkit-text-stroke:0.18px;">the body to reduce the entire volume greatly.</div>
<div class="t" style="left:35.8px;top:211.40px;font-size:10.6px;letter-spacing:-0.300px;-webkit-text-stroke:0.18px;">*Compare with CSS20 series at same condition.</div>
<div class="t" style="left:889.8px;top:52.80px;font-size:14.8px;font-weight:700;color:#fff;letter-spacing:0.016px;">Easy maintenance</div>
<div class="t" style="left:888.4px;top:72.00px;font-size:10.6px;letter-spacing:-0.109px;-webkit-text-stroke:0.18px;">Since the overall components of DM cylinder are highly</div>
<div class="t" style="left:888.4px;top:86.40px;font-size:10.6px;letter-spacing:-0.115px;-webkit-text-stroke:0.18px;">coated, only necessary to maintain the grease at the</div>
<div class="t" style="left:888.4px;top:100.70px;font-size:10.6px;letter-spacing:-0.037px;-webkit-text-stroke:0.18px;">ballscrew. It's simple and convenient for maintenance.</div>
<div class="t" style="left:872.7px;top:257.50px;font-size:14.8px;font-weight:700;color:#fff;letter-spacing:-0.478px;">Rigidity higher, better fluency for mainframe</div>
<div class="t" style="left:868.0px;top:289.70px;font-size:10.6px;letter-spacing:0.095px;word-spacing:0.333px;-webkit-text-stroke:0.18px;">Adopt aluminum material for mainframe which makes</div>
<div class="t" style="left:868.0px;top:304.60px;font-size:10.6px;letter-spacing:0.044px;word-spacing:0.185px;-webkit-text-stroke:0.18px;">body strengthened (Compared to CS).Combined steel</div>
<div class="t" style="left:868.0px;top:319.50px;font-size:10.6px;letter-spacing:0.265px;word-spacing:0.891px;-webkit-text-stroke:0.18px;">guide with aluminum mainframe and grinded which</div>
<div class="t" style="left:869.5px;top:440.80px;font-size:8.3px;letter-spacing:-0.268px;-webkit-text-stroke:0.18px;">Straightness of CSS20 is <span class="pm">±</span>0.05mm.</div>
<div class="t" style="left:869.5px;top:452.80px;font-size:8.3px;letter-spacing:-0.162px;-webkit-text-stroke:0.18px;">*Measure length is 50mm.</div>
<div class="t" style="left:1039.3px;top:441.50px;font-size:8.3px;letter-spacing:-0.268px;-webkit-text-stroke:0.18px;">Straightness of DMG25 is <span class="pm">±</span>0.01mm.</div>
<div class="t" style="left:1039.3px;top:453.30px;font-size:8.3px;letter-spacing:-0.175px;-webkit-text-stroke:0.18px;">*Measure length is 50mm.</div>
<div class="t" style="left:23.5px;top:520.80px;font-size:14.8px;font-weight:700;color:#fff;letter-spacing:0.137px;">Status monitoring speedy</div>
<div class="t" style="left:18.8px;top:545.60px;font-size:10.4px;letter-spacing:-0.001px;-webkit-text-stroke:0.18px;">DM cylinder combines with electric controlling, and only need to be installed mechanism</div>
<div class="t" style="left:18.8px;top:560.40px;font-size:10.4px;word-spacing:1.772px;-webkit-text-stroke:0.18px;">input unit command. Attached LED signal light for understanding current situation of</div>
<div class="t" style="left:18.8px;top:575.20px;font-size:10.4px;word-spacing:4.033px;-webkit-text-stroke:0.18px;">product. Due to electric control, the stability is better than pneumatic cylinders.</div>
<div class="t" style="left:19.6px;top:617.00px;font-size:10.6px;letter-spacing:-0.133px;-webkit-text-stroke:0.18px;">Status light display :</div>
<div class="t" style="left:19.0px;top:634.00px;font-size:10.6px;letter-spacing:-0.244px;-webkit-text-stroke:0.18px;"><span class="bl">●</span>Servo On:SVO(Greeen, constantly on)/ERP(Green,constantly on)</div>
<div class="t" style="left:19.0px;top:651.50px;font-size:10.6px;letter-spacing:-0.260px;-webkit-text-stroke:0.18px;"><span class="bl">●</span>Servo OFF:SVO(Green,&nbsp; 500ms on, 500ms off,interration)/ERP (Green, constantly on)</div>
<div class="t" style="left:19.0px;top:668.80px;font-size:10.6px;letter-spacing:-0.241px;-webkit-text-stroke:0.18px;"><span class="bl">●</span>Error:SVO(Green, off)/ERP(Red,&nbsp; 500ms on,500ms off, interration)</div>
<div class="t" style="left:480.0px;top:566.00px;font-size:15.6px;font-weight:700;color:#fff;letter-spacing:-0.342px;">Straightness improved</div>
<div class="t" style="left:474.7px;top:584.60px;font-size:10.6px;letter-spacing:-0.002px;-webkit-text-stroke:0.18px;">Patented built-in circular guideway</div>
<div class="t" style="left:474.7px;top:599.00px;font-size:10.6px;letter-spacing:-0.197px;-webkit-text-stroke:0.18px;"><span class="pm">±</span>0.02mm achieve <span class="pm">±</span>0.01mm</div>
<div class="t" style="left:474.7px;top:612.30px;font-size:10.6px;letter-spacing:-0.085px;-webkit-text-stroke:0.18px;">straightness</div>
<div class="t" style="left:681.3px;top:571.80px;font-size:14.6px;color:#fff;letter-spacing:0.022px;-webkit-text-stroke:0.35px #fff;">Higher accuracy and less noisy than pneumatic cylinders</div>
<div class="t" style="left:680.3px;top:598.10px;font-size:10.6px;letter-spacing:-0.033px;word-spacing:-0.094px;-webkit-text-stroke:0.18px;">The DMG of DM cylinders are adopted in built-in guideway module. The advantages of built-in guideway</div>
<div class="t" style="left:680.3px;top:612.80px;font-size:10.6px;letter-spacing:0.081px;word-spacing:0.211px;-webkit-text-stroke:0.18px;">are the ample used of inner space which makes body, guideway and steel balls coordinate with each</div>
<div class="t" style="left:680.3px;top:627.50px;font-size:10.6px;letter-spacing:0.043px;word-spacing:0.129px;-webkit-text-stroke:0.18px;">other well. This tailored module is able to entirely strengthen the products. Since built-in design made</div>
<div class="t" style="left:680.3px;top:642.20px;font-size:10.6px;letter-spacing:0.204px;word-spacing:0.598px;-webkit-text-stroke:0.18px;">combination with grinding ball ditch, the moving accuracy is much more reliable than the general</div>
<div class="t" style="left:680.3px;top:656.90px;font-size:10.6px;letter-spacing:0.062px;word-spacing:0.163px;-webkit-text-stroke:0.18px;">assembly units made by slider blocks and carriage. In addition, the rigidity on the torque of every axis</div>
<div class="t" style="left:680.3px;top:671.50px;font-size:10.6px;letter-spacing:0.068px;-webkit-text-stroke:0.18px;">can achieve maximum strength, it is higher than normal linear guideway.</div>
<div class="t" style="left:697.2px;top:11.50px;font-size:12.8px;color:#d8142f;letter-spacing:-0.055px;-webkit-text-stroke:0.18px;">Ball Screw</div>
<div class="t" style="left:450.8px;top:99.60px;font-size:12.8px;color:#d8142f;letter-spacing:0.282px;-webkit-text-stroke:0.18px;">Hollow servo motor</div>
<div class="t" style="left:662.5px;top:435.90px;font-size:12.8px;color:#d8142f;letter-spacing:0.215px;-webkit-text-stroke:0.18px;">Built-in linear circular guideway</div>
</body></html>
